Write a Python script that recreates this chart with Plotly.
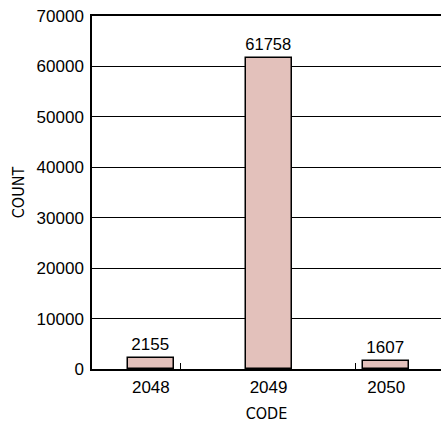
import plotly.graph_objects as go

codes = ["2048", "2049", "2050"]
counts = [2155, 61758, 1607]
y_ticks = [0, 10000, 20000, 30000, 40000, 50000, 60000, 70000]

NUM_FONT = "Liberation Sans, Arial, sans-serif"
TITLE_FONT = "DejaVu Sans Condensed, Arial, sans-serif"

fig = go.Figure()
fig.add_trace(go.Bar(
    x=list(range(len(codes))), y=counts, width=0.39,
    marker={"color": "#e3c1bb", "line": {"color": "black", "width": 1.5}},
    text=[str(c) for c in counts], textposition="outside",
    textfont={"size": 17, "color": "black", "family": NUM_FONT},
    cliponaxis=False,
))
fig.update_layout(
    width=441, height=423,
    margin={"l": 92, "r": 0, "t": 16, "b": 54},
    plot_bgcolor="white", paper_bgcolor="white",
    font={"family": NUM_FONT, "size": 17, "color": "black"},
    showlegend=False,
    bargap=0,
)
fig.update_xaxes(
    range=[-0.5, 2.465], tickvals=[0, 1, 2], ticktext=codes,
    ticks="", showgrid=False, zeroline=False, automargin=False,
    showline=True, linecolor="black", linewidth=1.5, mirror=True,
    ticklabelstandoff=2,
    title={"text": "CODE", "standoff": 16,
           "font": {"family": TITLE_FONT, "size": 16, "color": "black"}},
    minor={"tickvals": [0.25, 1.74], "ticks": "inside", "ticklen": 6,
           "tickcolor": "black", "tickwidth": 1, "showgrid": False},
)
fig.update_yaxes(
    range=[0, 70000], tickvals=y_ticks, ticktext=[str(v) for v in y_ticks],
    ticks="", showgrid=True, gridcolor="black", gridwidth=1, zeroline=False,
    automargin=False, ticklabelstandoff=3,
    showline=True, linecolor="black", linewidth=1.5,
    title={"text": "COUNT", "standoff": 8,
           "font": {"family": TITLE_FONT, "size": 16, "color": "black"}},
)
# drop the browser's default 8px body margin so the figure sits at the corner
fig.write_html("out.html", config={"displayModeBar": False},
               post_script="document.body.style.margin='0';")
